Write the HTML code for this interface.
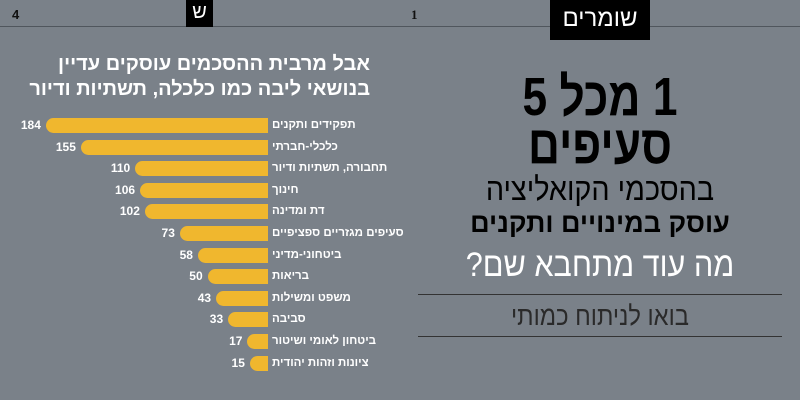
<!DOCTYPE html>
<html><head><meta charset="utf-8"><style>
*{margin:0;padding:0;box-sizing:border-box}
body{width:800px;height:400px;background:#7a8189;position:relative;overflow:hidden;font-family:"Liberation Sans","Noto Sans CJK SC",sans-serif}
.a{position:absolute}
.bar{position:absolute;height:15px;background:#f0b72e;border-radius:8px 0 0 8px;right:532px}
.num{position:absolute;font-weight:bold;font-size:12px;color:#fff;text-align:right;width:40px}
.lab{position:absolute;left:272px;font-weight:bold;font-size:11.5px;color:#fff;direction:rtl;text-align:right;white-space:nowrap}
.c{position:absolute;left:418px;width:364px;text-align:center;direction:rtl;white-space:nowrap}
</style></head><body>
<div class="a" style="left:0;top:26px;width:800px;height:1px;background:#50565d"></div>
<div class="a" style="left:12px;top:7px;font-weight:bold;font-size:13px;color:#111">4</div>
<div class="a" style="left:411px;top:7px;font-weight:bold;font-size:13px;color:#111;font-family:'Liberation Serif',serif">1</div>
<div class="a" style="left:186px;top:0;width:27px;height:27px;background:#000;color:#fff;text-align:center;font-size:20px;line-height:24px">ש</div>
<div class="a" style="left:550px;top:0;width:100px;height:40px;background:#000;color:#fff;text-align:center;font-size:24px;line-height:38px;direction:rtl">שומרים</div>
<div class="a" style="left:20px;top:52px;width:350px;text-align:right;direction:rtl;color:#fff;font-weight:bold;font-size:20px;line-height:25px">אבל מרבית ההסכמים עוסקים עדיין<br>בנושאי ליבה כמו כלכלה, תשתיות ודיור</div>
<div class="c" style="top:73px;font-size:54px;font-weight:900;line-height:48px;color:#000;transform:scaleX(0.82)">1 מכל 5<br>סעיפים</div>
<div class="c" style="top:170px;font-size:32px;color:#000;line-height:38px;transform:scaleX(0.9)">בהסכמי הקואליציה</div>
<div class="c" style="top:207px;font-size:27px;font-weight:bold;color:#000;line-height:32px">עוסק במינויים ותקנים</div>
<div class="c" style="top:245px;font-size:34px;color:#fff;line-height:40px;transform:scaleX(0.9)">מה עוד מתחבא שם?</div>
<div class="a" style="left:418px;top:294px;width:364px;height:1px;background:#333"></div>
<div class="c" style="top:300px;font-size:27px;color:#2a2a2a;line-height:32px;transform:scaleX(0.88)">בואו לניתוח כמותי</div>
<div class="a" style="left:418px;top:336px;width:364px;height:1px;background:#333"></div>
<div id="ch"></div>
<script>
var d=[["תפקידים ותקנים",184],["כלכלי-חברתי",155],["תחבורה, תשתיות ודיור",110],["חינוך",106],["דת ומדינה",102],["סעיפים מגזריים ספציפיים",73],["ביטחוני-מדיני",58],["בריאות",50],["משפט ומשילות",43],["סביבה",33],["ביטחון לאומי ושיטור",17],["ציונות וזהות יהודית",15]];
var h="";d.forEach(function(r,i){var y=118+i*21.6,w=r[1]*1.207,l=268-w;
h+='<div class="bar" style="top:'+y+'px;width:'+w+'px"></div>';
h+='<div class="num" style="top:'+(y)+'px;left:'+(l-45)+'px">'+r[1]+'</div>';
h+='<div class="lab" style="top:'+(y+1)+'px">'+r[0]+'</div>';});
document.getElementById("ch").innerHTML=h;
</script>
</body></html>
